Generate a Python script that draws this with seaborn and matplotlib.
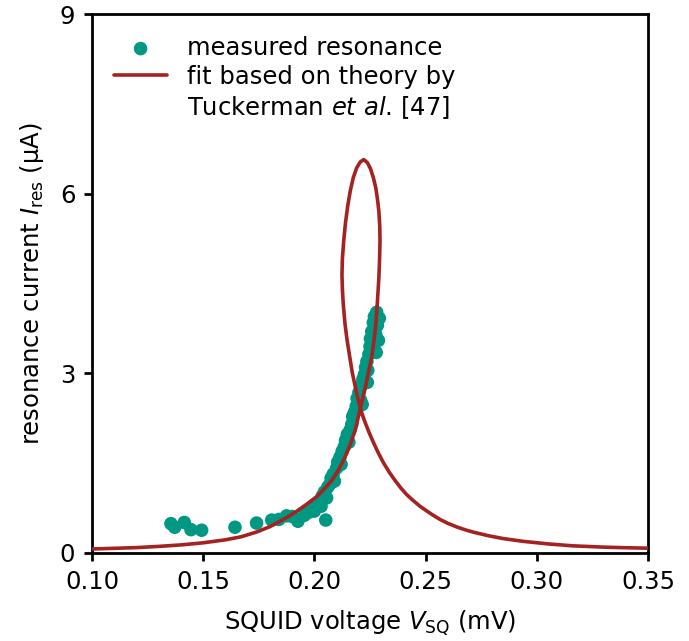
import seaborn as sns
import numpy as np
import matplotlib.pyplot as plt
from matplotlib.lines import Line2D
import pandas as pd

# measured resonance
v_meas = [0.1355, 0.1372, 0.1415, 0.1445, 0.1493, 0.1643, 0.1740, 0.1808, 0.1840,
          0.1875, 0.1900, 0.1926, 0.1955, 0.2051,
          0.1975, 0.1990, 0.2000, 0.2010, 0.2020, 0.2030, 0.2035, 0.2045, 0.2055,
          0.2060, 0.2070, 0.2075, 0.2085, 0.2090, 0.2100, 0.2105, 0.2115, 0.2120,
          0.2125, 0.2135, 0.2140, 0.2148, 0.2155, 0.2160, 0.2168, 0.2172, 0.2180,
          0.2188, 0.2192, 0.2200, 0.2208, 0.2212, 0.2218, 0.2225, 0.2230, 0.2236,
          0.2240, 0.2245, 0.2250, 0.2252, 0.2258, 0.2262, 0.2265, 0.2270, 0.2280,
          0.2283, 0.2276, 0.2292, 0.2288, 0.2278, 0.2215, 0.2238]
i_meas = [0.49, 0.43, 0.51, 0.39, 0.38, 0.43, 0.50, 0.55, 0.56,
          0.62, 0.61, 0.53, 0.63, 0.55,
          0.68, 0.72, 0.70, 0.80, 0.85, 0.78, 0.95, 1.02, 0.92,
          1.10, 1.15, 1.25, 1.32, 1.20, 1.42, 1.52, 1.60, 1.48,
          1.70, 1.78, 1.88, 1.98, 1.85, 2.05, 2.15, 2.28, 2.35,
          2.45, 2.58, 2.68, 2.55, 2.80, 2.90, 2.98, 3.10, 3.20,
          3.05, 3.32, 3.45, 3.58, 3.70, 3.52, 3.85, 3.95, 4.02,
          3.80, 3.65, 3.92, 3.55, 3.35, 2.48, 2.85]

# fit curve (Tuckerman et al.), traced in path order
v_fit = [0.100, 0.110, 0.120, 0.130, 0.140, 0.150, 0.160, 0.167, 0.174, 0.180,
         0.186, 0.191, 0.196, 0.201, 0.2045, 0.2080, 0.2110, 0.2135, 0.2160, 0.2185,
         0.2208, 0.2228, 0.2245, 0.2258, 0.2267, 0.2274, 0.2280, 0.2285, 0.2290,
         0.2293, 0.2295, 0.2294, 0.2290, 0.2284, 0.2276, 0.2265, 0.2252, 0.2238,
         0.2222, 0.2206, 0.2190, 0.2175, 0.2162, 0.2150, 0.2140, 0.2132, 0.2126,
         0.2124, 0.2126, 0.2130, 0.2137, 0.2146, 0.2157, 0.2170, 0.2187, 0.2205,
         0.2225, 0.2245, 0.2265, 0.2285, 0.2310, 0.2340, 0.2365, 0.2390, 0.2415,
         0.2443, 0.2475, 0.2500, 0.2530, 0.2565, 0.2600, 0.2640, 0.2680, 0.2713,
         0.2780, 0.2850, 0.2938, 0.3050, 0.3160, 0.3300, 0.3400, 0.3500]
i_fit = [0.067, 0.078, 0.090, 0.110, 0.135, 0.170, 0.220, 0.270, 0.350, 0.440,
         0.560, 0.670, 0.800, 0.940, 1.07, 1.22, 1.40, 1.58, 1.80, 2.07,
         2.44, 2.75, 3.05, 3.28, 3.52, 3.75, 4.00, 4.30, 4.60,
         4.90, 5.20, 5.45, 5.70, 5.90, 6.10, 6.27, 6.42, 6.52,
         6.57, 6.53, 6.43, 6.27, 6.06, 5.80, 5.52, 5.22, 4.92,
         4.65, 4.40, 4.15, 3.85, 3.58, 3.32, 3.02, 2.72, 2.43,
         2.21, 2.02, 1.85, 1.69, 1.51, 1.33, 1.20, 1.08, 0.975,
         0.88, 0.78, 0.715, 0.64, 0.56, 0.495, 0.435, 0.385, 0.35,
         0.29, 0.24, 0.195, 0.152, 0.12, 0.098, 0.088, 0.080]

meas = pd.DataFrame({"V": v_meas, "I": i_meas})
fit = pd.DataFrame({"V": v_fit, "I": i_fit})

sns.set_style("ticks")
plt.rcParams["font.family"] = "DejaVu Sans"
plt.rcParams["mathtext.fontset"] = "dejavusans"
plt.rcParams["text.color"] = "black"
plt.rcParams["axes.labelcolor"] = "black"
plt.rcParams["xtick.color"] = "black"
plt.rcParams["ytick.color"] = "black"
plt.rcParams["axes.edgecolor"] = "black"

fs = 17.5
fig, ax = plt.subplots(figsize=(6.89, 6.41), dpi=100)
fig.subplots_adjust(left=0.1335, right=0.9405, bottom=0.1373, top=0.978)

sns.scatterplot(data=meas, x="V", y="I", ax=ax, color="#009882", s=95,
                edgecolor="none", label="measured resonance", zorder=2)
sns.lineplot(data=fit, x="V", y="I", ax=ax, sort=False, estimator=None,
             color="#a52222", lw=2.6, zorder=3,
             label="fit based on theory by")

ax.set_xlim(0.10, 0.35)
ax.set_ylim(0, 9)
ax.set_xticks([0.10, 0.15, 0.20, 0.25, 0.30, 0.35])
ax.set_yticks([0, 3, 6, 9])
ax.set_xlabel("SQUID voltage $V_\\mathrm{SQ}$ (mV)", fontsize=fs, labelpad=11)
ax.set_ylabel("resonance current $I_\\mathrm{res}$ (\u03bcA)", fontsize=fs, labelpad=10)
ax.tick_params(labelsize=fs, width=2, length=6, pad=6, direction="out")
for sp in ax.spines.values():
    sp.set_linewidth(2)

handles, labels = ax.get_legend_handles_labels()
handles.append(Line2D([], [], color="none"))
labels.append("Tuckerman $et\\ al$. [47]")
ax.legend(handles, labels, loc="upper left", frameon=False, fontsize=fs,
          handlelength=2.2, scatterpoints=1, borderaxespad=0.5, labelspacing=0.2)

plt.savefig("out.png", dpi=100)
plt.close()
